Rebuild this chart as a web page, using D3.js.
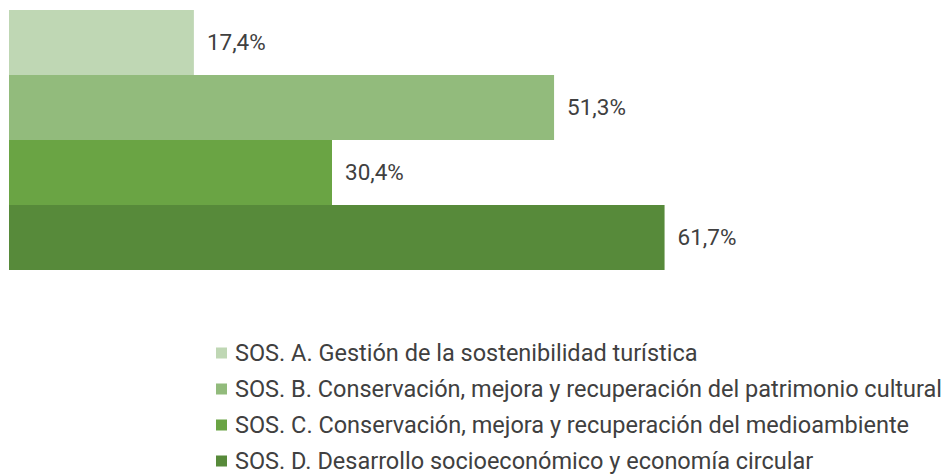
<!DOCTYPE html>
<html><head><meta charset="utf-8">
<script src="https://cdn.jsdelivr.net/npm/d3@7"></script>
<style>body{margin:0;background:#fff}svg{display:block}</style>
</head><body>
<script>
const categories = ["SOS. A. Gestión de la sostenibilidad turística",
  "SOS. B. Conservación, mejora y recuperación del patrimonio cultural",
  "SOS. C. Conservación, mejora y recuperación del medioambiente",
  "SOS. D. Desarrollo socioeconómico y economía circular"];
const values = [17.4, 51.3, 30.4, 61.7];
const colors = ["#bfd7b4", "#92bb7c", "#6aa444", "#578a3a"];

const W = 949, H = 476;
const svg = d3.select("body").append("svg").attr("width", W).attr("height", H);
const x = d3.scaleLinear().domain([0, 80]).range([9, 859]);
const y = d3.scaleBand().domain(categories).range([10, 270]).padding(0);
const fmt = v => d3.format(".1f")(v).replace(".", ",") + "%";

svg.selectAll("rect.bar").data(values).join("rect").attr("class", "bar")
  .attr("x", x(0)).attr("y", (d, i) => y(categories[i]))
  .attr("width", d => x(d) - x(0)).attr("height", y.bandwidth())
  .attr("fill", (d, i) => colors[i]);

svg.selectAll("text.lab").data(values).join("text").attr("class", "lab")
  .attr("x", d => x(d) + 13).attr("y", (d, i) => y(categories[i]) + y.bandwidth() / 2)
  .attr("dy", "0.35em").attr("font-family", "Roboto").attr("font-size", 22.5)
  .attr("fill", "#404040").text(fmt);

const ly = d3.scalePoint().domain(categories).range([353, 461]);
const lg = svg.selectAll("g.leg").data(categories).join("g").attr("class", "leg")
  .attr("transform", d => `translate(216,${ly(d)})`);
lg.append("rect").attr("x", 0).attr("y", -5.5).attr("width", 11).attr("height", 11)
  .attr("fill", (d, i) => colors[i]);
lg.append("text").attr("x", 19).attr("dy", "0.35em").attr("font-family", "Roboto")
  .attr("font-size", 23.5).attr("fill", "#404040").text(d => d);
</script>
</body></html>
